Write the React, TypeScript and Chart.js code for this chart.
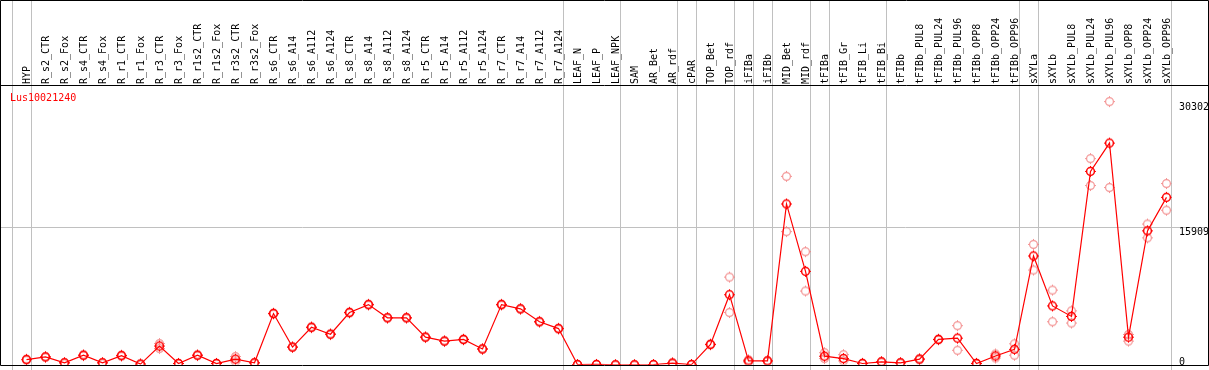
import React, { useEffect, useRef } from "react";
import { Chart, registerables } from "chart.js";

Chart.register(...registerables);

const categories = [
  "HYP", "R_s2_CTR", "R_s2_Fox", "R_s4_CTR", "R_s4_Fox", "R_r1_CTR", "R_r1_Fox", "R_r3_CTR", "R_r3_Fox",
  "R_r1s2_CTR", "R_r1s2_Fox", "R_r3s2_CTR", "R_r3s2_Fox", "R_s6_CTR", "R_s6_A14", "R_s6_A112", "R_s6_A124",
  "R_s8_CTR", "R_s8_A14", "R_s8_A112", "R_s8_A124", "R_r5_CTR", "R_r5_A14", "R_r5_A112", "R_r5_A124",
  "R_r7_CTR", "R_r7_A14", "R_r7_A112", "R_r7_A124", "LEAF_N", "LEAF_P", "LEAF_NPK", "SAM", "AR_Bet", "AR_rdf",
  "cPAR", "TOP_Bet", "TOP_rdf", "iFIBa", "iFIBb", "MID_Bet", "MID_rdf", "tFIBa", "tFIB_Gr", "tFIB_Li", "tFIB_Bi",
  "tFIBb", "tFIBb_PUL8", "tFIBb_PUL24", "tFIBb_PUL96", "tFIBb_OPP8", "tFIBb_OPP24", "tFIBb_OPP96", "sXYLa",
  "sXYLb", "sXYLb_PUL8", "sXYLb_PUL24", "sXYLb_PUL96", "sXYLb_OPP8", "sXYLb_OPP24", "sXYLb_OPP96",
];

const meanValues = [
  600, 910, 230, 1100, 230, 1060, 80, 2160, 150,
  1100, 150, 650, 230, 5900, 2040, 4320, 3520,
  6020, 6930, 5410, 5410, 3180, 2730, 2920, 1820,
  6930, 6440, 4960, 4170, 30, 40, 0, 0, 30, 190,
  30, 2350, 8070, 450, 450, 18520, 10760, 990, 720, 150, 340,
  230, 650, 2920, 3070, 150, 1020, 1780, 12530,
  6780, 5570, 22270, 25530, 3180, 15420, 19280,
];

const replicateHigh = [
  650, 950, 260, 1150, 260, 1120, 100, 2450, 170,
  1150, 170, 950, 260, 5950, 2080, 4370, 3570,
  6070, 6980, 5460, 5460, 3230, 2780, 2970, 1870,
  6980, 6490, 5010, 4220, 40, 50, 0, 0, 40, 260,
  40, 2400, 10100, 580, 480, 21700, 13030, 1400, 1170, 180, 380,
  260, 720, 2970, 4510, 180, 1250, 2420, 13860,
  8600, 6210, 23740, 30302, 3490, 16210, 20870,
];

const replicateLow = [
  550, 870, 200, 1050, 200, 1000, 60, 1870, 130,
  1050, 130, 350, 200, 5850, 2000, 4270, 3470,
  5970, 6880, 5360, 5360, 3130, 2680, 2870, 1770,
  6880, 6390, 4910, 4120, 20, 30, 0, 0, 20, 120,
  20, 2300, 6020, 320, 420, 15340, 8490, 720, 450, 120, 300,
  200, 580, 2870, 1670, 120, 790, 1100, 10910,
  4960, 4810, 20640, 20410, 2730, 14620, 17800,
];

const yTickValues = [0, 15909, 30302];
const groupStarts = [0, 1, 29, 32, 35, 36, 38, 39, 40, 42, 43, 46, 53, 54, 61];
const geneName = "Lus10021240";

const FONT = "DejaVu Sans Mono";

function makePointImage(color: string, lw: number) {
  const c = document.createElement("canvas");
  c.width = 13;
  c.height = 13;
  const g = c.getContext("2d")!;
  g.strokeStyle = color;
  g.fillStyle = color;
  g.lineWidth = lw;
  g.beginPath();
  g.arc(6.5, 6.5, 3.9, 0, Math.PI * 2);
  g.stroke();
  g.fillRect(6, 1, 1, 1);
  g.fillRect(6, 11, 1, 1);
  g.fillRect(1, 6, 1, 1);
  g.fillRect(11, 6, 1, 1);
  return c;
}

const framePlugin = {
  id: "frame",
  beforeDatasetsDraw(chart: any) {
    const { ctx, chartArea, scales, width, height } = chart;
    const x = scales.x;
    const y = scales.y;
    const x0 = x.getPixelForValue(0);
    const step = x.getPixelForValue(1) - x0;
    ctx.save();
    ctx.lineWidth = 1;
    ctx.strokeStyle = "#c0c0c0";
    for (const s of groupStarts) {
      const px = Math.round(x0 + s * step - 15) + 0.5;
      ctx.beginPath();
      ctx.moveTo(px, 0);
      ctx.lineTo(px, height);
      ctx.stroke();
    }
    const gy = Math.round(y.getPixelForValue(yTickValues[1])) + 0.5;
    ctx.beginPath();
    ctx.moveTo(1, gy);
    ctx.lineTo(width - 2, gy);
    ctx.stroke();

    ctx.strokeStyle = "#000";
    ctx.beginPath();
    ctx.rect(0.5, 0.5, width - 1, Math.round(chartArea.bottom));
    ctx.moveTo(0, Math.round(chartArea.top) - 0.5);
    ctx.lineTo(width, Math.round(chartArea.top) - 0.5);
    ctx.stroke();
    ctx.restore();
  },
  afterDraw(chart: any) {
    const { ctx, chartArea, scales } = chart;
    const y = scales.y;
    ctx.save();
    ctx.font = `10px "${FONT}"`;
    ctx.textBaseline = "alphabetic";
    ctx.textAlign = "left";
    ctx.fillStyle = "#ff0000";
    ctx.fillText(geneName, 10, chartArea.top + 15);
    ctx.fillStyle = "#000";
    for (const v of yTickValues) {
      const py = Math.min(y.getPixelForValue(v) + 8.5, 365);
      ctx.fillText(String(v), 1179, py);
    }
    ctx.restore();
  },
};

export default function App() {
  const ref = useRef<HTMLCanvasElement | null>(null);
  useEffect(() => {
    const prevMargin = document.body.style.margin;
    document.body.style.margin = "0";
    const meanImg = makePointImage("#ff0000", 1.5);
    const repImg = makePointImage("rgba(240,120,120,0.8)", 1.2);
    const chart = new Chart(ref.current!, {
      type: "line",
      data: {
        labels: categories,
        datasets: [
          {
            data: meanValues,
            borderColor: "#ff0000",
            borderWidth: 1.2,
            pointStyle: meanImg as any,
            pointRadius: 4,
            fill: false,
            tension: 0,
            order: 0,
          },
          {
            data: replicateHigh,
            showLine: false,
            pointStyle: repImg as any,
            pointRadius: 4,
            order: 1,
          },
          {
            data: replicateLow,
            showLine: false,
            pointStyle: repImg as any,
            pointRadius: 4,
            order: 2,
          },
        ],
      },
      options: {
        responsive: false,
        animation: false,
        devicePixelRatio: 1,
        layout: { padding: { left: 26.5, right: 42.5, top: 0, bottom: 2 } },
        plugins: { legend: { display: false }, tooltip: { enabled: false } },
        scales: {
          x: {
            type: "category",
            position: "top",
            offset: false,
            grid: { display: false, drawTicks: false },
            border: { display: false },
            ticks: {
              autoSkip: false,
              maxRotation: 90,
              minRotation: 90,
              padding: 2,
              labelOffset: 12.5,
              color: "#000",
              font: { family: FONT, size: 10 },
            },
            afterFit: (s: any) => {
              s.height = 86;
              s.paddingLeft = 0;
              s.paddingRight = 0;
            },
          },
          y: { display: false, min: 0, max: 32100 },
        },
      },
      plugins: [framePlugin],
    });
    return () => {
      chart.destroy();
      document.body.style.margin = prevMargin;
    };
  }, []);
  return (
    <div style={{ position: "absolute", left: 0, top: 0, width: 1209, height: 370 }}>
      <canvas ref={ref} width={1209} height={370} style={{ display: "block", width: 1209, height: 370 }} />
    </div>
  );
}
